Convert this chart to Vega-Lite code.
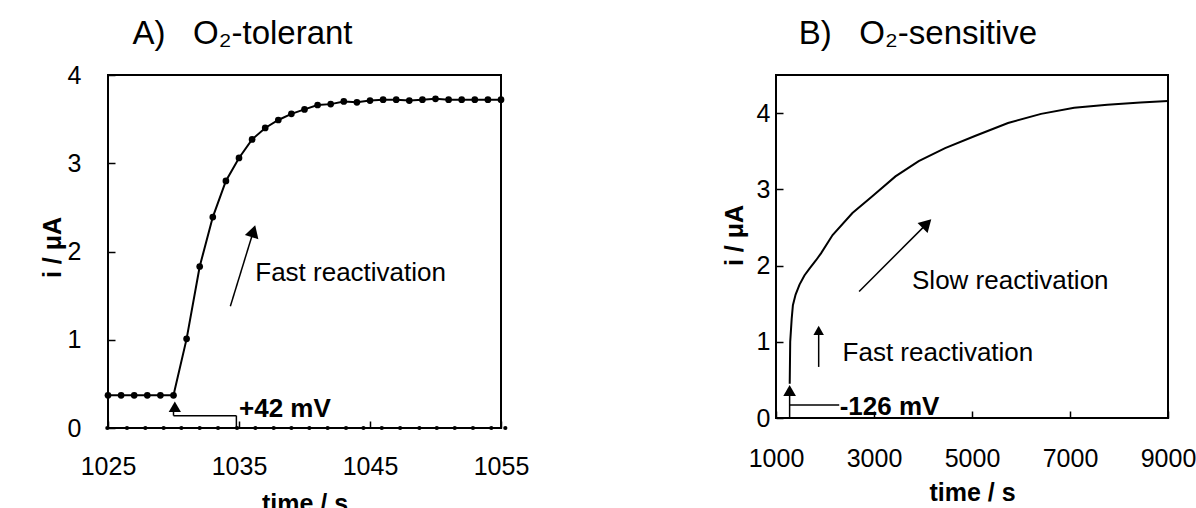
{
  "$schema": "https://vega.github.io/schema/vega-lite/v6.json",
  "background": "white",
  "padding": {"left": 39, "top": 17, "right": 5, "bottom": 5},
  "bounds": "flush",
  "spacing": 275,
  "config": {
    "font": "Liberation Sans",
    "view": {"stroke": "black", "strokeWidth": 2},
    "axis": {
      "domain": false, "grid": false, "tickColor": "black", "tickSize": -7, "tickWidth": 1.5,
      "labelColor": "black", "labelFont": "Liberation Sans", "labelFontSize": 25,
      "titleFont": "Liberation Sans", "titleFontSize": 25, "titleFontWeight": "bold", "titleColor": "black",
      "labelFlush": false, "labelOverlap": false, "format": "d"
    },
    "title": {"font": "Liberation Sans", "fontSize": 33, "fontWeight": "normal", "color": "black"}
  },
  "datasets": {
    "A_curve": [
      {"t": 1025, "i": 0.37}, {"t": 1026, "i": 0.37}, {"t": 1027, "i": 0.37}, {"t": 1028, "i": 0.37},
      {"t": 1029, "i": 0.37}, {"t": 1030, "i": 0.37}, {"t": 1031, "i": 1.01}, {"t": 1032, "i": 1.83},
      {"t": 1033, "i": 2.39}, {"t": 1034, "i": 2.80}, {"t": 1035, "i": 3.06}, {"t": 1036, "i": 3.27},
      {"t": 1037, "i": 3.40}, {"t": 1038, "i": 3.49}, {"t": 1039, "i": 3.56}, {"t": 1040, "i": 3.61},
      {"t": 1041, "i": 3.66}, {"t": 1042, "i": 3.67}, {"t": 1043, "i": 3.70}, {"t": 1044, "i": 3.69},
      {"t": 1045, "i": 3.71}, {"t": 1046, "i": 3.72}, {"t": 1047, "i": 3.72}, {"t": 1048, "i": 3.71},
      {"t": 1049, "i": 3.72}, {"t": 1050, "i": 3.73}, {"t": 1051, "i": 3.72}, {"t": 1052, "i": 3.72},
      {"t": 1053, "i": 3.72}, {"t": 1054, "i": 3.72}, {"t": 1055, "i": 3.72}
    ],
    "A_base": [
      {"t": 1024.95, "i": 0}, {"t": 1026.45, "i": 0}, {"t": 1027.85, "i": 0}, {"t": 1029.25, "i": 0},
      {"t": 1030.6, "i": 0}, {"t": 1032.0, "i": 0}, {"t": 1033.4, "i": 0}, {"t": 1034.85, "i": 0},
      {"t": 1036.25, "i": 0}, {"t": 1037.65, "i": 0}, {"t": 1039.0, "i": 0}, {"t": 1040.37, "i": 0},
      {"t": 1041.77, "i": 0}, {"t": 1043.17, "i": 0}, {"t": 1044.5, "i": 0}, {"t": 1045.9, "i": 0},
      {"t": 1047.3, "i": 0}, {"t": 1048.77, "i": 0}, {"t": 1050.1, "i": 0}, {"t": 1051.47, "i": 0},
      {"t": 1052.86, "i": 0}, {"t": 1054.26, "i": 0}, {"t": 1055.33, "i": 0}
    ],
    "A_segs": [
      {"t": 1030, "i": 0.14, "t2": 1030, "i2": 0.2},
      {"t": 1030, "i": 0.14, "t2": 1034.8, "i2": 0.14},
      {"t": 1034.8, "i": 0, "t2": 1034.8, "i2": 0.14},
      {"t": 1034.34, "i": 1.38, "t2": 1036.1, "i2": 2.23}
    ],
    "A_marker": [{"t": 1030.1, "i": 0.24}],
    "A_head": [{"t": 1036.1, "i": 2.23}],
    "A_labels": [
      {"t": 1035.0, "i": 0.128, "label": "+42 mV", "kind": "mv"},
      {"t": 1036.24, "i": 1.67, "label": "Fast reactivation", "kind": "note"}
    ],
    "B_curve": [
      {"t": 1280, "i": 0.45}, {"t": 1290, "i": 1.0}, {"t": 1320, "i": 1.3}, {"t": 1345, "i": 1.48},
      {"t": 1400, "i": 1.62}, {"t": 1480, "i": 1.75}, {"t": 1580, "i": 1.87}, {"t": 1683, "i": 1.96},
      {"t": 1817, "i": 2.07}, {"t": 1918, "i": 2.16}, {"t": 2155, "i": 2.40}, {"t": 2560, "i": 2.69},
      {"t": 2966, "i": 2.91}, {"t": 3438, "i": 3.17}, {"t": 3912, "i": 3.37}, {"t": 4451, "i": 3.54},
      {"t": 5059, "i": 3.70}, {"t": 5735, "i": 3.87}, {"t": 6410, "i": 3.99}, {"t": 7085, "i": 4.07},
      {"t": 7762, "i": 4.11}, {"t": 8437, "i": 4.14}, {"t": 9000, "i": 4.16}
    ],
    "B_segs": [
      {"t": 1278, "i": 0, "t2": 1278, "i2": 0.3},
      {"t": 1278, "i": 0.17, "t2": 2290, "i2": 0.17},
      {"t": 2696, "i": 1.66, "t2": 4080, "i2": 2.55},
      {"t": 1871, "i": 0.67, "t2": 1871, "i2": 1.15}
    ],
    "B_marker": [{"t": 1278, "i": 0.36}],
    "B_heads": [
      {"t": 4080, "i": 2.55, "kind": "slow"},
      {"t": 1871, "i": 1.15, "kind": "fast"}
    ],
    "B_labels": [
      {"t": 2300, "i": 0.035, "label": "-126 mV", "kind": "mv"},
      {"t": 3776, "i": 1.69, "label": "Slow reactivation", "kind": "note"},
      {"t": 2358, "i": 0.75, "label": "Fast reactivation", "kind": "note"}
    ]
  },
  "hconcat": [
    {
      "width": 393,
      "height": 353,
      "title": {"text": "A)\u00a0\u00a0\u00a0O₂-tolerant", "anchor": "middle", "frame": "group", "dx": -62, "baseline": "alphabetic", "offset": -14},
      "encoding": {
        "x": {"field": "t", "type": "quantitative", "scale": {"domain": [1025, 1055], "nice": false, "zero": false},
              "axis": {"title": "time / s", "values": [1025, 1035, 1045, 1055], "labelPadding": 33, "titlePadding": 12}},
        "y": {"field": "i", "type": "quantitative", "scale": {"domain": [0, 4], "nice": false},
              "axis": {"title": "i / μA", "values": [0, 1, 2, 3, 4], "labelPadding": 34, "titleX": -56, "titleY": 172, "titleAngle": -90, "titleBaseline": "middle", "titleAlign": "center"}}
      },
      "layer": [
        {"data": {"name": "A_curve"}, "mark": {"type": "line", "color": "black", "strokeWidth": 2}},
        {"data": {"name": "A_curve"}, "mark": {"type": "point", "filled": true, "color": "black", "size": 45, "opacity": 1}},
        {"data": {"name": "A_base"}, "mark": {"type": "point", "filled": true, "color": "black", "size": 18, "opacity": 1, "clip": false}},
        {"data": {"name": "A_segs"}, "mark": {"type": "rule", "color": "black", "strokeWidth": 1.5},
         "encoding": {"x2": {"field": "t2"}, "y2": {"field": "i2"}}},
        {"data": {"name": "A_marker"}, "mark": {"type": "point", "shape": "triangle-up", "filled": true, "color": "black", "size": 150, "opacity": 1}},
        {"data": {"name": "A_head"}, "mark": {"type": "point", "shape": "triangle-up", "filled": true, "color": "black", "size": 200, "opacity": 1, "angle": 17}},
        {"data": {"name": "A_labels"}, "transform": [{"filter": "datum.kind == 'mv'"}],
         "mark": {"type": "text", "fontSize": 26, "fontWeight": "bold", "align": "left", "baseline": "alphabetic", "color": "black"},
         "encoding": {"text": {"field": "label"}}},
        {"data": {"name": "A_labels"}, "transform": [{"filter": "datum.kind == 'note'"}],
         "mark": {"type": "text", "fontSize": 26, "align": "left", "baseline": "alphabetic", "color": "black"},
         "encoding": {"text": {"field": "label"}}}
      ]
    },
    {
      "width": 392,
      "height": 343,
      "title": {"text": "B)\u00a0\u00a0\u00a0O₂-sensitive", "anchor": "middle", "frame": "group", "dx": -54, "baseline": "alphabetic", "offset": -2},
      "encoding": {
        "x": {"field": "t", "type": "quantitative", "scale": {"domain": [1000, 9000], "nice": false, "zero": false},
              "axis": {"title": "time / s", "values": [1000, 3000, 5000, 7000, 9000], "labelPadding": 35, "titlePadding": 9}},
        "y": {"field": "i", "type": "quantitative", "scale": {"domain": [0, 4.5], "nice": false},
              "axis": {"title": "i / μA", "values": [0, 1, 2, 3, 4], "labelPadding": 13, "titleX": -42, "titleY": 160, "titleAngle": -90, "titleBaseline": "middle", "titleAlign": "center"}}
      },
      "layer": [
        {"data": {"name": "B_curve"}, "mark": {"type": "line", "color": "black", "strokeWidth": 2}},
        {"data": {"name": "B_segs"}, "mark": {"type": "rule", "color": "black", "strokeWidth": 1.5},
         "encoding": {"x2": {"field": "t2"}, "y2": {"field": "i2"}}},
        {"data": {"name": "B_marker"}, "mark": {"type": "point", "shape": "triangle-up", "filled": true, "color": "black", "size": 160, "opacity": 1}},
        {"data": {"name": "B_heads"}, "transform": [{"filter": "datum.kind == 'slow'"}],
         "mark": {"type": "point", "shape": "triangle-up", "filled": true, "color": "black", "size": 200, "opacity": 1, "angle": 45}},
        {"data": {"name": "B_heads"}, "transform": [{"filter": "datum.kind == 'fast'"}],
         "mark": {"type": "point", "shape": "triangle-up", "filled": true, "color": "black", "size": 110, "opacity": 1}},
        {"data": {"name": "B_labels"}, "transform": [{"filter": "datum.kind == 'mv'"}],
         "mark": {"type": "text", "fontSize": 26, "fontWeight": "bold", "align": "left", "baseline": "alphabetic", "color": "black"},
         "encoding": {"text": {"field": "label"}}},
        {"data": {"name": "B_labels"}, "transform": [{"filter": "datum.kind == 'note'"}],
         "mark": {"type": "text", "fontSize": 26, "align": "left", "baseline": "alphabetic", "color": "black"},
         "encoding": {"text": {"field": "label"}}}
      ]
    }
  ]
}
